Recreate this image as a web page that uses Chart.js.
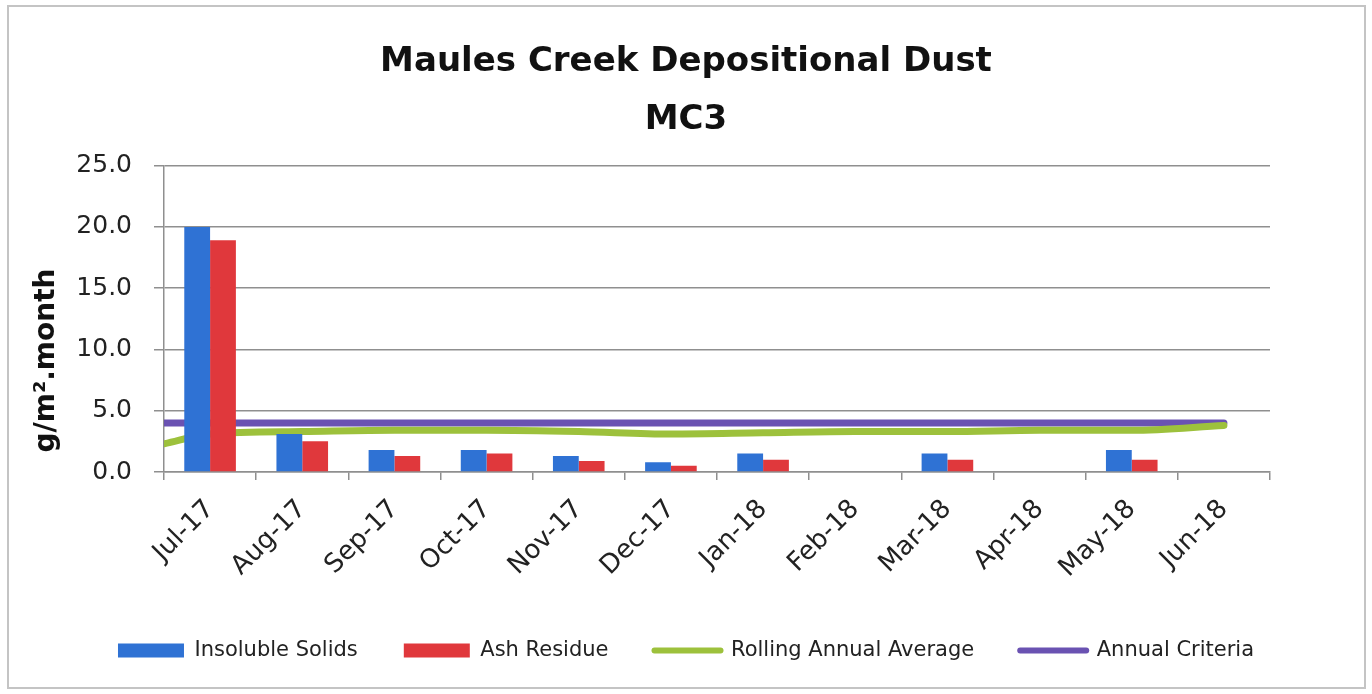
<!DOCTYPE html>
<html>
<head>
<meta charset="utf-8">
<script src="https://cdn.jsdelivr.net/npm/chart.js@4"></script>
<style>
  html, body { margin: 0; padding: 0; background: #fff; }
  #wrap { width: 1372px; height: 694px; position: relative; }
  canvas { display: block; }
</style>
</head>
<body>
<div id="wrap"><canvas id="c" width="1372" height="694"></canvas></div>
<script>
// ---- data ----
const months = ['Jul-17','Aug-17','Sep-17','Oct-17','Nov-17','Dec-17','Jan-18','Feb-18','Mar-18','Apr-18','May-18','Jun-18'];
const insolubleSolids = [20.0, 3.1, 1.8, 1.8, 1.3, 0.8, 1.5, null, 1.5, null, 1.8, null];
const ashResidue      = [18.9, 2.5, 1.3, 1.5, 0.9, 0.5, 1.0, null, 1.0, null, 1.0, null];
const rollingAnnualAverage = [3.1, 3.3, 3.4, 3.4, 3.3, 3.1, 3.2, 3.3, 3.3, 3.4, 3.4, 3.8];
const rollingAverageAtAxis = 2.3;   // value where the line meets the left edge of the plot
const annualCriteria = [4.0, 4.0, 4.0, 4.0, 4.0, 4.0, 4.0, 4.0, 4.0, 4.0, 4.0, 4.0];
const annualCriteriaAtAxis = 4.0;
const yTicks = [0, 5, 10, 15, 20, 25];

// lines: one point per month (category index) plus a leading point at the plot's left edge
function linePoints(startValue, values) {
  const pts = [{ x: -0.5, y: startValue }];
  values.forEach((v, i) => pts.push({ x: i, y: v }));
  return pts;
}

const FONT = '"DejaVu Sans", sans-serif';
const BLUE = '#2f72d4', RED = '#e0383c', GREEN = '#9dc13c', PURPLE = '#6a52b2';
const GRID = '#8f8f8f';

const borderPlugin = {
  id: 'frame',
  beforeDraw(chart) {
    const ctx = chart.ctx;
    ctx.save();
    ctx.fillStyle = '#fff';
    ctx.fillRect(0, 0, chart.width, chart.height);
    ctx.strokeStyle = '#c4c4c4';
    ctx.lineWidth = 2;
    ctx.strokeRect(8, 6, 1357, 682);
    ctx.restore();
  }
};

new Chart(document.getElementById('c'), {
  type: 'bar',
  data: {
    labels: months,
    datasets: [
      { label: 'Insoluble Solids', data: insolubleSolids, backgroundColor: BLUE, borderWidth: 0 },
      { label: 'Ash Residue', data: ashResidue, backgroundColor: RED, borderWidth: 0 },
      { label: 'Rolling Annual Average', type: 'line', parsing: false,
        data: linePoints(rollingAverageAtAxis, rollingAnnualAverage),
        borderColor: GREEN, backgroundColor: GREEN, borderWidth: 7, pointRadius: 0,
        tension: 0.4, cubicInterpolationMode: 'monotone', borderCapStyle: 'round', clip: 0 },
      { label: 'Annual Criteria', type: 'line', parsing: false,
        data: linePoints(annualCriteriaAtAxis, annualCriteria),
        borderColor: PURPLE, backgroundColor: PURPLE, borderWidth: 7, pointRadius: 0,
        borderCapStyle: 'round', clip: {left: 0, top: 0, bottom: 0, right: 10} }
    ]
  },
  options: {
    responsive: false,
    animation: false,
    devicePixelRatio: 1,
    layout: { padding: { left: 10, right: 10, top: 0, bottom: 23 } },
    datasets: { bar: { categoryPercentage: 0.56, barPercentage: 1.0 } },
    plugins: {
      tooltip: { enabled: false },
      title: {
        display: true,
        text: ['Maules Creek Depositional Dust', 'MC3'],
        color: '#111',
        font: { family: FONT, size: 34, weight: 'bold', lineHeight: 1.7 },
        padding: { top: 33, bottom: 17 }
      },
      legend: {
        position: 'bottom',
        labels: {
          color: '#222',
          font: { family: FONT, size: 21 },
          usePointStyle: true,
          pointStyleWidth: 66,
          boxHeight: 14,
          padding: 46,
          generateLabels(chart) {
            return chart.data.datasets.map((ds, i) => {
              const isLine = ds.type === 'line';
              return {
                text: ds.label,
                fillStyle: ds.backgroundColor,
                strokeStyle: isLine ? ds.borderColor : ds.backgroundColor,
                lineWidth: isLine ? 6 : 0,
                lineCap: 'round',
                pointStyle: isLine ? 'line' : 'rect',
                fontColor: '#222',
                hidden: false,
                datasetIndex: i
              };
            });
          }
        }
      }
    },
    scales: {
      x: {
        type: 'category',
        offset: true,
        afterFit(scale) { scale.height = 122; },
        grid: { display: true, drawOnChartArea: false, drawTicks: true, tickLength: 8, offset: true, color: GRID, lineWidth: 1.5 },
        border: { display: true, color: GRID, width: 1.5 },
        ticks: { color: '#222', font: { family: FONT, size: 26 }, maxRotation: 45, minRotation: 45, padding: 14, autoSkip: false }
      },
      y: {
        min: 0,
        max: 25,
        afterBuildTicks(scale) { scale.ticks = yTicks.map(v => ({ value: v })); },
        afterFit(scale) { scale.width = 154; },
        grid: { color: GRID, lineWidth: 1.5, tickLength: 10 },
        border: { display: true, color: GRID, width: 1.5 },
        ticks: {
          color: '#222',
          font: { family: FONT, size: 25 },
          padding: 22,
          callback: v => Number(v).toFixed(1)
        },
        title: {
          display: true,
          align: 'start',
          text: '  g/m\u00B2.month',
          color: '#111',
          font: { family: FONT, size: 28, weight: 'bold' },
          padding: { top: 20, bottom: 0 }
        }
      },
      yRight: {
        position: 'right',
        display: true,
        min: 0,
        max: 25,
        afterFit(scale) { scale.width = 92; },
        grid: { drawOnChartArea: false, drawTicks: false },
        border: { display: false },
        ticks: { display: false }
      }
    }
  },
  plugins: [borderPlugin]
});
</script>
</body>
</html>
